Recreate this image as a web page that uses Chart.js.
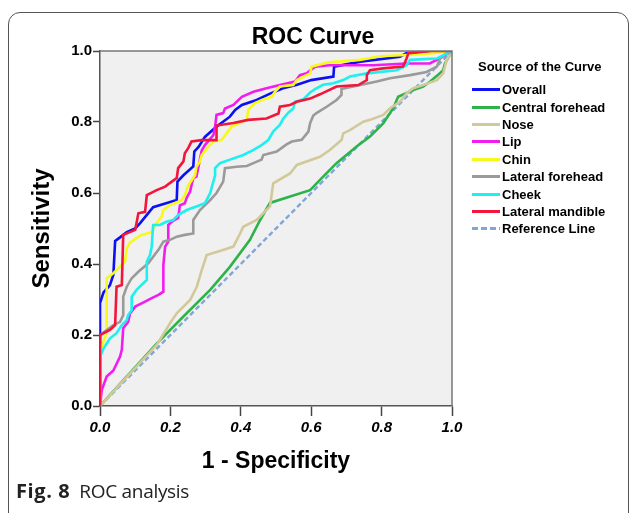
<!DOCTYPE html>
<html>
<head>
<meta charset="utf-8">
<script src="https://cdn.jsdelivr.net/npm/chart.js@4.4.1/dist/chart.umd.min.js"></script>
<style>
  body { margin: 0; background: #fff; width: 630px; height: 513px; overflow: hidden; position: relative;
         font-family: "Liberation Sans", Arial, sans-serif; }
  #frame { position: absolute; left: 8px; top: 12px; width: 621px; height: 520px; border: 1.5px solid #555;
           border-radius: 12px; box-sizing: border-box; }
  #chart { position: absolute; left: 0; top: 0; }
  #title { position: absolute; left: 213px; width: 200px; top: 23px; text-align: center; font-weight: bold;
           font-size: 23px; line-height: 26px; color: #000; }
  #legend { position: absolute; left: 472px; top: 59px; font-size: 13px; font-weight: bold; color: #000; }
  #legend .head { margin-left: 6px; height: 16px; line-height: 16px; margin-bottom: 6px; }
  #legend .row { display: flex; align-items: center; height: 17.4px; }
  #legend .swatch { width: 28px; height: 3px; margin-right: 2px; }
  #caption { position: absolute; left: 16px; top: 477px; font-family: "Open Sans", sans-serif; font-size: 19px;
             color: #222; letter-spacing: -0.3px; }
  #caption b { margin-right: 9px; font-size: 20px; letter-spacing: 0.6px; }
</style>
</head>
<body>
<div id="frame"></div>
<canvas id="chart" width="630" height="513"></canvas>
<div id="title">ROC Curve</div>
<div id="legend"><div class="head">Source of the Curve</div></div>
<div id="caption"><b>Fig. 8</b>ROC analysis</div>
<script>
// series names + colours (legend order)
const seriesNames = ['Overall', 'Central forehead', 'Nose', 'Lip', 'Chin', 'Lateral forehead', 'Cheek', 'Lateral mandible'];
const seriesColors = ['#0c10f2', '#2db34a', '#d2c99a', '#f21cf0', '#f8f81a', '#9a9a9a', '#1cf0f0', '#f2163c'];

// [1 - specificity, sensitivity]
const overall = [[0,0],[0,0.29],[0.01,0.32],[0.028,0.34],[0.038,0.37],[0.043,0.465],[0.057,0.475],[0.076,0.49],[0.1,0.5],[0.114,0.515],[0.151,0.56],[0.19,0.572],[0.218,0.58],[0.22,0.632],[0.237,0.65],[0.265,0.675],[0.268,0.717],[0.28,0.73],[0.298,0.758],[0.331,0.787],[0.369,0.815],[0.384,0.834],[0.403,0.848],[0.445,0.862],[0.483,0.88],[0.52,0.895],[0.56,0.905],[0.6,0.918],[0.663,0.928],[0.665,0.956],[0.74,0.97],[0.852,0.984],[0.871,0.994],[1,1]];
const centralForehead = [[0,0],[0.161,0.176],[0.237,0.252],[0.313,0.327],[0.369,0.392],[0.426,0.468],[0.455,0.524],[0.483,0.572],[0.54,0.59],[0.597,0.608],[0.634,0.646],[0.672,0.684],[0.729,0.731],[0.767,0.759],[0.805,0.797],[0.833,0.839],[0.847,0.871],[0.89,0.89],[0.918,0.9],[0.938,0.914],[0.957,0.93],[0.975,0.946],[0.98,0.965],[1,1]];
const nose = [[0,0],[0.161,0.172],[0.199,0.233],[0.218,0.261],[0.256,0.299],[0.275,0.336],[0.289,0.383],[0.303,0.425],[0.336,0.435],[0.379,0.449],[0.398,0.486],[0.407,0.505],[0.445,0.524],[0.483,0.562],[0.492,0.627],[0.54,0.655],[0.559,0.679],[0.625,0.702],[0.653,0.721],[0.686,0.749],[0.691,0.768],[0.71,0.777],[0.748,0.801],[0.767,0.806],[0.805,0.82],[0.824,0.839],[0.852,0.857],[0.871,0.881],[0.89,0.895],[0.918,0.904],[0.957,0.918],[0.975,0.937],[0.985,0.975],[1,1]];
const lip = [[0,0],[0.005,0.045],[0.019,0.083],[0.038,0.1],[0.057,0.139],[0.062,0.158],[0.066,0.219],[0.08,0.237],[0.085,0.26],[0.1,0.28],[0.128,0.294],[0.147,0.304],[0.166,0.313],[0.18,0.322],[0.18,0.397],[0.185,0.449],[0.194,0.463],[0.194,0.51],[0.204,0.519],[0.222,0.53],[0.227,0.565],[0.241,0.571],[0.246,0.586],[0.256,0.604],[0.26,0.622],[0.265,0.642],[0.274,0.646],[0.289,0.72],[0.298,0.735],[0.322,0.763],[0.327,0.787],[0.331,0.82],[0.35,0.825],[0.355,0.838],[0.379,0.848],[0.403,0.871],[0.436,0.885],[0.473,0.895],[0.511,0.904],[0.554,0.914],[0.568,0.932],[0.587,0.937],[0.611,0.956],[0.653,0.96],[0.776,0.96],[0.871,0.965],[0.937,0.965],[0.957,0.975],[1,1]];
const chin = [[0,0],[0,0.153],[0.019,0.206],[0.019,0.36],[0.038,0.374],[0.071,0.406],[0.076,0.444],[0.085,0.46],[0.114,0.48],[0.147,0.49],[0.156,0.51],[0.175,0.533],[0.18,0.552],[0.199,0.566],[0.232,0.58],[0.241,0.594],[0.251,0.622],[0.27,0.65],[0.274,0.674],[0.284,0.689],[0.289,0.707],[0.307,0.73],[0.322,0.745],[0.345,0.749],[0.374,0.787],[0.417,0.806],[0.421,0.834],[0.44,0.853],[0.46,0.862],[0.488,0.871],[0.497,0.885],[0.511,0.9],[0.549,0.904],[0.559,0.918],[0.597,0.937],[0.601,0.956],[0.649,0.968],[0.739,0.975],[0.795,0.985],[0.9,0.99],[0.946,0.994],[1,1]];
const lateralForehead = [[0,0],[0,0.2],[0.038,0.228],[0.057,0.237],[0.066,0.256],[0.066,0.308],[0.076,0.336],[0.09,0.36],[0.109,0.378],[0.137,0.402],[0.166,0.44],[0.18,0.463],[0.199,0.468],[0.218,0.477],[0.241,0.482],[0.265,0.486],[0.265,0.524],[0.284,0.552],[0.313,0.58],[0.331,0.6],[0.35,0.632],[0.355,0.67],[0.388,0.674],[0.417,0.676],[0.459,0.694],[0.464,0.707],[0.502,0.717],[0.53,0.737],[0.545,0.745],[0.573,0.75],[0.592,0.773],[0.597,0.797],[0.606,0.818],[0.616,0.826],[0.644,0.843],[0.672,0.862],[0.686,0.876],[0.686,0.893],[0.739,0.904],[0.786,0.914],[0.824,0.923],[0.881,0.932],[0.928,0.941],[0.957,0.956],[0.966,0.979],[0.98,0.99],[1,1]];
const cheek = [[0,0],[0,0.139],[0.01,0.162],[0.028,0.19],[0.047,0.205],[0.062,0.228],[0.076,0.242],[0.08,0.256],[0.09,0.27],[0.09,0.308],[0.104,0.327],[0.118,0.341],[0.133,0.355],[0.133,0.406],[0.142,0.425],[0.147,0.449],[0.151,0.51],[0.17,0.51],[0.189,0.519],[0.208,0.524],[0.222,0.538],[0.246,0.552],[0.274,0.562],[0.298,0.571],[0.313,0.6],[0.327,0.65],[0.327,0.67],[0.341,0.684],[0.369,0.694],[0.407,0.707],[0.435,0.721],[0.459,0.735],[0.478,0.749],[0.492,0.773],[0.511,0.792],[0.521,0.81],[0.535,0.826],[0.549,0.838],[0.554,0.857],[0.578,0.864],[0.597,0.883],[0.611,0.893],[0.634,0.905],[0.663,0.909],[0.691,0.918],[0.71,0.928],[0.758,0.937],[0.843,0.946],[0.871,0.96],[0.881,0.975],[0.957,0.979],[1,1]];
const lateralMandible = [[0,0],[0,0.2],[0.028,0.214],[0.043,0.228],[0.047,0.336],[0.062,0.341],[0.066,0.482],[0.1,0.496],[0.109,0.543],[0.128,0.547],[0.133,0.594],[0.161,0.608],[0.185,0.618],[0.204,0.632],[0.218,0.642],[0.222,0.67],[0.237,0.689],[0.241,0.712],[0.251,0.727],[0.26,0.745],[0.289,0.749],[0.331,0.749],[0.331,0.79],[0.379,0.797],[0.421,0.806],[0.473,0.81],[0.507,0.824],[0.511,0.843],[0.54,0.848],[0.559,0.857],[0.597,0.866],[0.625,0.878],[0.672,0.9],[0.734,0.904],[0.758,0.918],[0.758,0.932],[0.767,0.946],[0.804,0.951],[0.861,0.956],[0.871,0.979],[0.876,0.994],[0.94,1],[1,1]];
const referenceLine = [[0,0],[1,1]];

const seriesData = [overall, centralForehead, nose, lip, chin, lateralForehead, cheek, lateralMandible];
const refColor = '#7fa7d6';
const tickValues = [0, 0.2, 0.4, 0.6, 0.8, 1.0];

const FONT = '"Liberation Sans", Arial, sans-serif';

let datasets = seriesData.map((pts, i) => ({
  label: seriesNames[i],
  data: pts.map(p => ({ x: p[0], y: p[1] })),
  borderColor: seriesColors[i],
  borderWidth: 2.6,
  showLine: true,
  pointRadius: 0,
  order: seriesData.length - i
}));
datasets.push({
  label: 'Reference Line',
  data: referenceLine.map(p => ({ x: p[0], y: p[1] })),
  borderColor: refColor,
  borderWidth: 2.4,
  borderDash: [5, 3],
  showLine: true,
  pointRadius: 0,
  order: 20
});

// grey plot background and the top/right frame
const plotBg = {
  id: 'plotBg',
  beforeDraw(chart) {
    const a = chart.chartArea, c = chart.ctx;
    c.save();
    c.fillStyle = '#f0f0f0';
    c.fillRect(a.left, a.top, a.right - a.left, a.bottom - a.top);
    c.restore();
  },
  afterDraw(chart) {
    const a = chart.chartArea, c = chart.ctx;
    c.save();
    c.strokeStyle = '#777';
    c.lineWidth = 1.5;
    c.beginPath();
    c.moveTo(a.left, a.top);
    c.lineTo(a.right, a.top);
    c.lineTo(a.right, a.bottom);
    c.stroke();
    c.restore();
  }
};

function axisTicks(scale) {
  scale.ticks = tickValues.map(v => ({ value: v }));
}

new Chart(document.getElementById('chart').getContext('2d'), {
  type: 'scatter',
  data: { datasets: datasets },
  options: {
    responsive: false,
    animation: false,
    devicePixelRatio: 1,
    layout: { padding: { top: 51, right: 178, left: 0, bottom: 0 } },
    plugins: { legend: { display: false }, tooltip: { enabled: false } },
    elements: { line: { tension: 0 } },
    scales: {
      x: {
        type: 'linear', min: 0, max: 1,
        afterBuildTicks: axisTicks,
        afterFit(s) { s.height = 107; },
        ticks: { callback: v => v.toFixed(1), color: '#000', padding: 3, maxRotation: 0, autoSkip: false,
                 font: { family: FONT, size: 15, weight: 'bold', style: 'italic' } },
        grid: { drawOnChartArea: false, tickLength: 10, tickColor: '#444', tickWidth: 1.5 },
        border: { color: '#555', width: 1.5 },
        title: { display: true, text: '1 - Specificity', color: '#000',
                 font: { family: FONT, size: 23, weight: 'bold' }, padding: { top: 0, bottom: 38 } }
      },
      y: {
        type: 'linear', min: 0, max: 1,
        afterBuildTicks: axisTicks,
        afterFit(s) { s.width = 100; },
        ticks: { callback: v => v.toFixed(1), color: '#000', padding: 1,
                 font: { family: FONT, size: 15, weight: 'bold' } },
        grid: { drawOnChartArea: false, tickLength: 7, tickColor: '#444', tickWidth: 1.5 },
        border: { color: '#555', width: 1.5 },
        title: { display: true, text: 'Sensitivity', color: '#000',
                 font: { family: FONT, size: 24, weight: 'bold' }, padding: { top: 28, bottom: 0 } }
      }
    }
  },
  plugins: [plotBg]
});

// legend built from the same series lists
const legend = document.getElementById('legend');
datasets.forEach(d => {
  const row = document.createElement('div');
  row.className = 'row';
  const sw = document.createElement('span');
  sw.className = 'swatch';
  if (d.borderDash) {
    sw.style.background = `repeating-linear-gradient(90deg, ${d.borderColor} 0 6px, transparent 6px 9px)`;
  } else {
    sw.style.background = d.borderColor;
  }
  const txt = document.createElement('span');
  txt.textContent = d.label;
  row.appendChild(sw);
  row.appendChild(txt);
  legend.appendChild(row);
});
</script>
</body>
</html>
